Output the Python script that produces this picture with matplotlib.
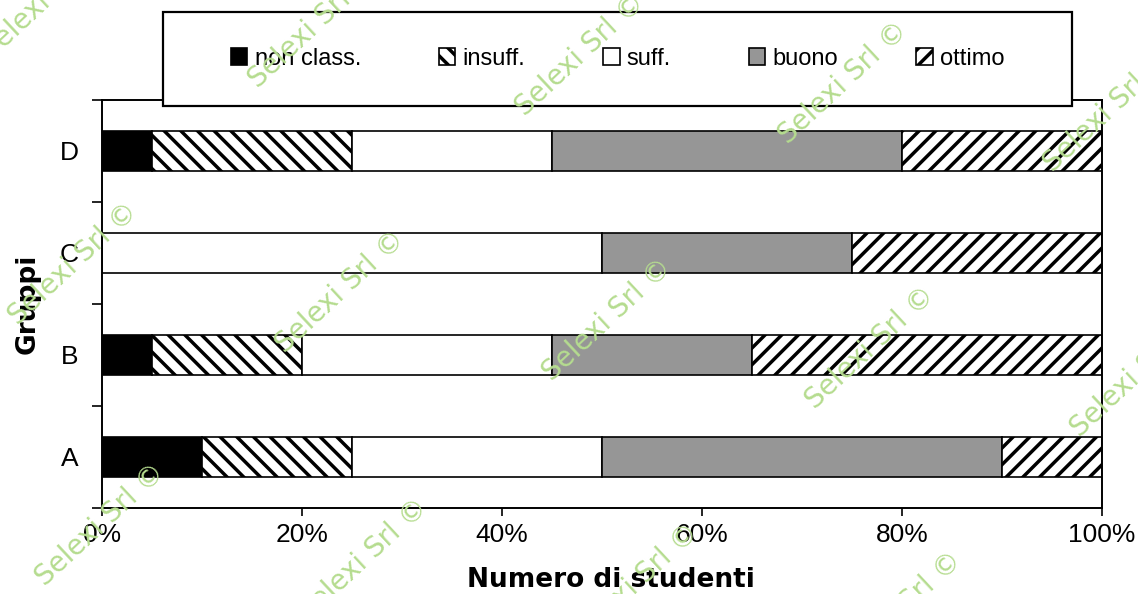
import numpy as np
import matplotlib
matplotlib.use("Agg")
import matplotlib.pyplot as plt
from matplotlib.patches import Rectangle
from matplotlib.ticker import FuncFormatter

plt.rcParams['font.family'] = ['Liberation Sans', 'DejaVu Sans']
plt.rcParams['hatch.linewidth'] = 2.5

# dati (percentuali per gruppo)
gruppi = ['A', 'B', 'C', 'D']
non_class = [10, 5, 0, 5]
insuff = [15, 15, 0, 20]
suff = [25, 25, 50, 20]
buono = [40, 20, 25, 35]
ottimo = [10, 35, 25, 20]
serie = ['non class.', 'insuff.', 'suff.', 'buono', 'ottimo']
x_ticks = [0, 20, 40, 60, 80, 100]

colori = ['black', 'white', 'white', '#969696', 'white']
tratteggi = [None, '\\\\', None, None, '//']

fig = plt.figure(figsize=(11.38, 5.94), dpi=100)
ax = fig.add_axes([102/1138, 1-508/594, 1000/1138, 408/594])

y = np.arange(len(gruppi))
left = np.zeros(len(gruppi))
bars = []
for vals, lab, col, h in zip([non_class, insuff, suff, buono, ottimo], serie, colori, tratteggi):
    b = ax.barh(y, vals, left=left, height=0.39, color=col, edgecolor='black',
                linewidth=1.2, hatch=h, label=lab)
    bars.append(b)
    left += np.array(vals)

ax.set_xlim(0, 100)
ax.set_ylim(-0.5, 3.5)
ax.set_xticks(x_ticks)
ax.xaxis.set_major_formatter(FuncFormatter(lambda v, p: '%d%%' % v))
ax.set_yticks(y)
ax.set_yticklabels(gruppi)
ax.set_yticks(np.arange(-0.5, 4, 1), minor=True)
ax.tick_params(axis='x', direction='out', length=6, width=1.2, labelsize=19, pad=5)
ax.tick_params(axis='y', which='major', length=0, labelsize=19, pad=17)
ax.tick_params(axis='y', which='minor', direction='out', length=7, width=1.2)
for s in ax.spines.values():
    s.set_linewidth(1.4)

ax.set_xlabel('Numero di studenti', family='DejaVu Sans', fontweight='bold',
              fontsize=19, va='center')
ax.xaxis.set_label_coords(0.509, -0.176)
ax.set_ylabel('Gruppi', family='DejaVu Sans', fontweight='bold', fontsize=19, va='center')
ax.yaxis.set_label_coords(-0.074, 0.5)

# riquadro legenda
box = Rectangle((163/1138, 1-106/594), (1072-163)/1138, 94/594, transform=fig.transFigure,
                facecolor='white', edgecolor='black', linewidth=1.6, zorder=4)
fig.patches.append(box)
leg = fig.legend(handles=bars, labels=serie, ncol=5, frameon=False, loc='center',
                 bbox_to_anchor=(617.5/1138, 1-59/594), fontsize=17,
                 handlelength=0.7, handleheight=0.7, handletextpad=0.3,
                 columnspacing=3.3)
leg.set_zorder(5)

# filigrana
wm = [(46, -1), (313, 27), (580, 55), (843, 83), (1108, 111),
      (73, 264), (340, 292), (607, 320), (870, 348), (1135, 376),
      (100, 525), (363, 560), (634, 585), (897, 613), (1162, 641)]
for px, py in wm:
    fig.text(px/1138, 1-py/594, 'Selexi Srl \u00a9', rotation=43, rotation_mode='anchor',
             ha='center', va='center', fontsize=20, color='#b5dc8f',
             family='DejaVu Sans', zorder=10)

fig.savefig('out.png', dpi=100)
